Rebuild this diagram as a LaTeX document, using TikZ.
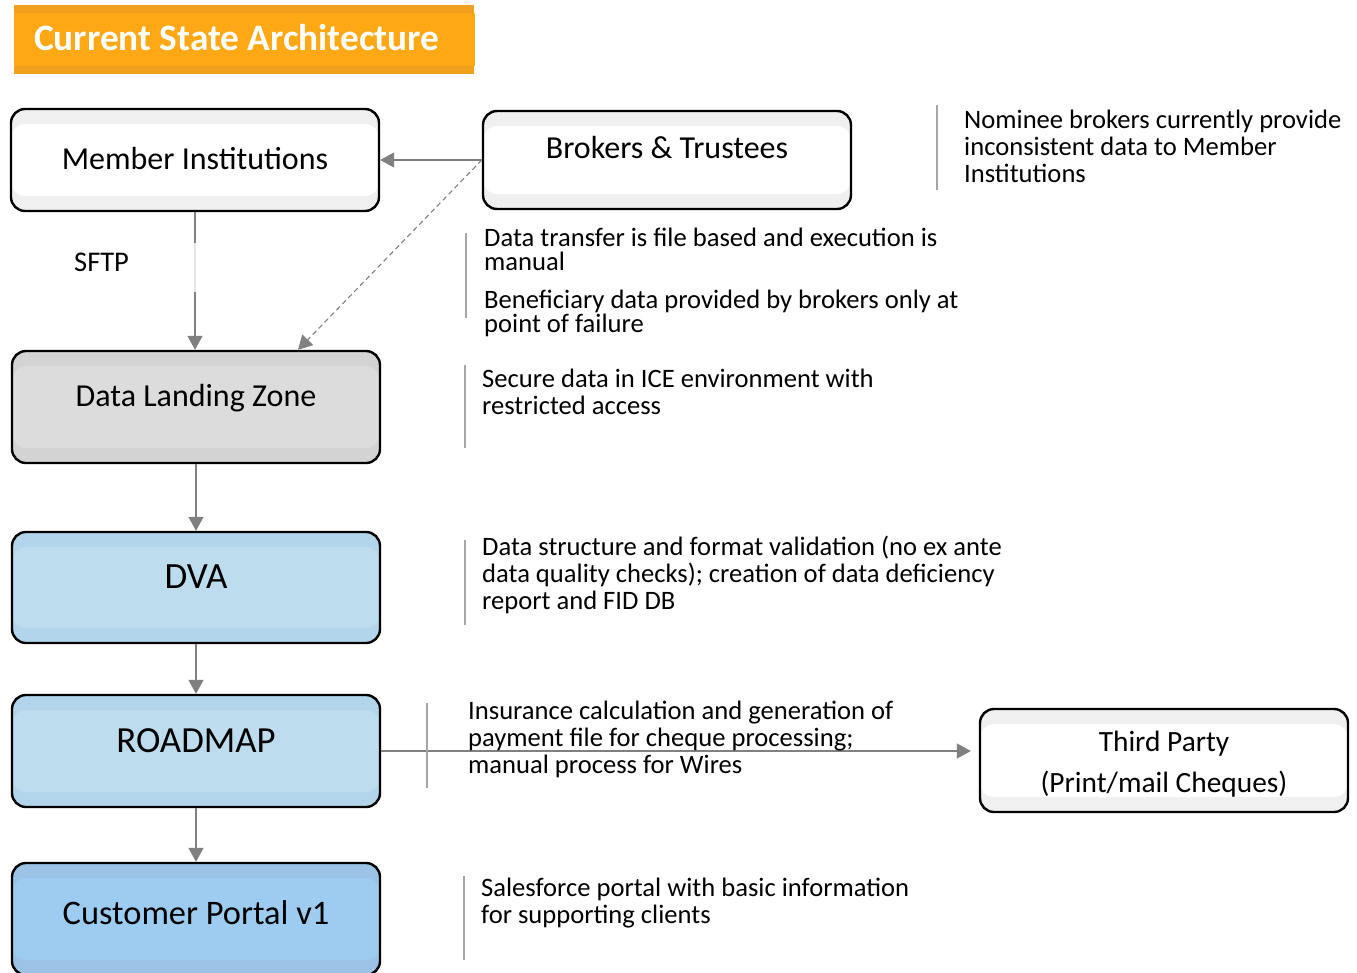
\documentclass[tikz,border=0pt]{standalone}
\usepackage{fontspec}
\setmainfont{Carlito}
\usetikzlibrary{arrows.meta,calc}
\definecolor{arrowgray}{HTML}{808080}
\definecolor{sepgray}{HTML}{A6A6A6}
\definecolor{titleorange}{HTML}{FDA814}
\definecolor{titleedge}{HTML}{F0A01C}
\definecolor{bandwhite}{HTML}{F0F0F0}
\definecolor{dlzmain}{HTML}{DCDCDC}
\definecolor{dlzband}{HTML}{D3D3D3}
\definecolor{bluemain}{HTML}{BDDDEF}
\definecolor{blueband}{HTML}{B3D5EB}
\definecolor{portalmain}{HTML}{9DCCF0}
\definecolor{portalband}{HTML}{9BC3E6}
\tikzset{
  boxbase/.style={draw=black, line width=2.4pt, rounded corners=14pt,
    minimum width=368pt, minimum height=100pt, inner sep=0pt, align=center,
    font=\fontsize{32}{34}\selectfont},
  whitebox/.style={boxbase, fill=bandwhite,
    path picture={\fill[white] ([yshift=-15pt]path picture bounding box.north west) rectangle ([yshift=15pt]path picture bounding box.south east);}},
  graybox/.style={boxbase, fill=dlzband,
    path picture={\fill[dlzmain] ([yshift=-15pt]path picture bounding box.north west) rectangle ([yshift=15pt]path picture bounding box.south east);}},
  bluebox/.style={boxbase, fill=blueband,
    path picture={\fill[bluemain] ([yshift=-15pt]path picture bounding box.north west) rectangle ([yshift=15pt]path picture bounding box.south east);}},
  portalbox/.style={boxbase, fill=portalband,
    path picture={\fill[portalmain] ([yshift=-15pt]path picture bounding box.north west) rectangle ([yshift=15pt]path picture bounding box.south east);}},
  conn/.style={draw=arrowgray, line width=1.4pt, -{Triangle[length=14pt,width=15pt]}},
  dconn/.style={draw=arrowgray, line width=1.1pt, dash pattern=on 5pt off 3.5pt, -{Triangle[length=14pt,width=15pt]}},
  sepline/.style={draw=sepgray, line width=1.2pt},
  note/.style={anchor=west, align=left, inner sep=0pt, font=\fontsize{26.6}{27}\selectfont},
  notetight/.style={note, font=\fontsize{26.6}{24}\selectfont},
}
\begin{document}
\begin{tikzpicture}[x=1pt,y=-1pt]
\useasboundingbox (0,0) rectangle (1357,972);
\fill[white] (0,0) rectangle (1357,972);

% title
\fill[titleedge] (14,5) rectangle (474,74);
\fill[titleorange] (14,13) rectangle (475,66);
\node[anchor=west, inner sep=0pt, text=white, font=\bfseries\fontsize{37.3}{40}\selectfont] (title) at (34,38) {Current State Architecture};

% boxes
\node[whitebox, minimum height=102pt] (mi) at (195,160) {\raisebox{3pt}{Member Institutions}};
\node[whitebox, minimum height=98pt] (bt) at (667,160) {\raisebox{26pt}{Brokers \& Trustees}};
\node[graybox, minimum height=112pt] (dlz) at (196,407) {\raisebox{24pt}{Data Landing Zone}};
\node[bluebox, minimum height=111pt, font=\fontsize{37}{39}\selectfont] (dva) at (196,587.5) {\raisebox{22pt}{DVA}};
\node[bluebox, minimum height=112pt, font=\fontsize{36.8}{39}\selectfont] (rm) at (196,751) {\raisebox{20pt}{ROADMAP}};
\node[portalbox, minimum height=112pt, font=\fontsize{34.4}{36}\selectfont] (cp) at (196,919) {\raisebox{13pt}{Customer Portal v1}};
\node[whitebox, minimum height=103pt, font=\fontsize{29.4}{41}\selectfont] (tp) at (1164,760.5) {\raisebox{0pt}[\dimexpr\height+8pt\relax][\depth]{\shortstack{Third Party\\[12pt](Print/mail Cheques)}}};

% connectors
\draw[conn] (bt.west) -- (mi.east);
\draw[dconn] (bt.west) -- ([xshift=102pt]dlz.north);
\draw[conn] (mi.south) -- (mi.south |- dlz.north);
\fill[white, opacity=0.8] (190,243) rectangle (200,292);
\node[anchor=west, inner sep=0pt, font=\fontsize{28.5}{30}\selectfont] (sftp) at (74,262) {SFTP};
\draw[conn] (dlz.south) -- (dva.north);
\draw[conn] (dva.south) -- (rm.north);
\draw[conn] (rm.south) -- (cp.north);
\draw[conn, shorten >=8pt] (rm.east) -- (rm.east -| tp.west);

% separators
\draw[sepline] (937,105) -- (937,190);
\draw[sepline] (466,233) -- (466,318);
\draw[sepline] (465,365) -- (465,448);
\draw[sepline] (465,540) -- (465,625);
\draw[sepline] (427,703) -- (427,788);
\draw[sepline] (464,876) -- (464,960);

% notes
\node[note] (n1) at (964,146) {Nominee brokers currently provide\\inconsistent data to Member\\Institutions};
\node[notetight] (n2) at (484,249) {Data transfer is file based and execution is\\manual};
\node[notetight] (n3) at (484,313) {Beneficiary data provided by brokers only at\\point of failure};
\node[note] (n4) at (482,391.5) {Secure data in ICE environment with\\restricted access};
\node[note] (n5) at (482,575) {Data structure and format validation (no ex ante\\data quality checks); creation of data deficiency\\report and FID DB};
\node[note] (n6) at (468,739) {Insurance calculation and generation of\\payment file for cheque processing;\\manual process for Wires};
\node[note] (n7) at (481,903.5) {Salesforce portal with basic information\\for supporting clients};
\end{tikzpicture}
\end{document}
